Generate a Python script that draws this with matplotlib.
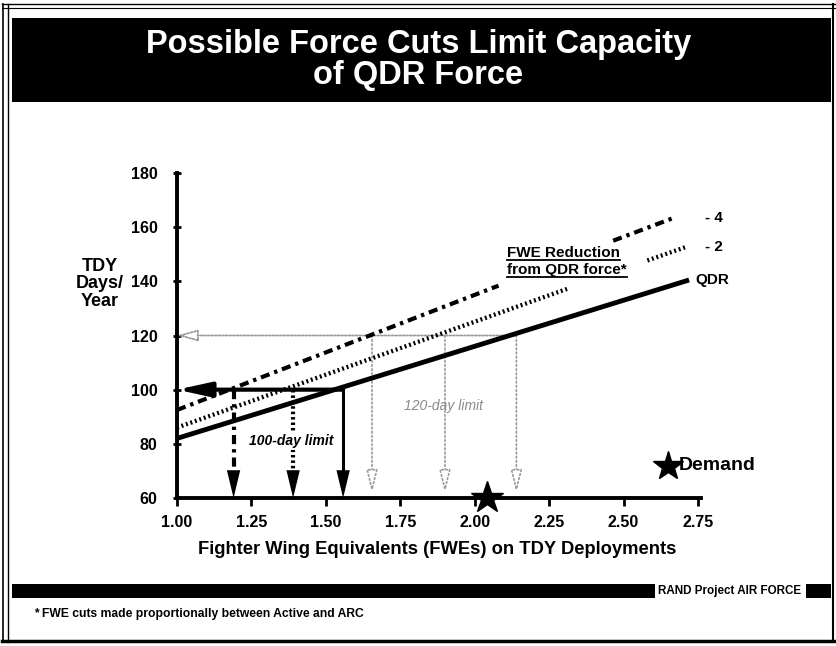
import numpy as np
import matplotlib
matplotlib.use("Agg")
import matplotlib.pyplot as plt
from matplotlib.lines import Line2D
from matplotlib.patches import Rectangle

plt.rcParams['font.family'] = ['Liberation Sans', 'DejaVu Sans']

# ---------------- data ----------------
qdr_x = [1.0, 2.72]
qdr_y = [82.0, 140.5]
cut2_x = [1.0, 2.31, np.nan, 2.58, 2.71]
cut2_y = [86.0, 137.2, np.nan, 147.7, 152.7]
cut4_x = [1.0, 2.08, np.nan, 2.465, 2.67]
cut4_y = [92.5, 138.4, np.nan, 155.0, 163.5]
limit100_x = [1.19, 1.39, 1.558]     # -4, -2, QDR at 100 days
limit120_x = [1.655, 1.90, 2.14]     # -4, -2, QDR at 120 days
limit100 = 100
limit120 = 120
demand_x = 2.04
x_ticks = [1.00, 1.25, 1.50, 1.75, 2.00, 2.25, 2.50, 2.75]
x_tick_labels = ["1.00", "1.25", "1.50", "1.75", "2.00", "2.25", "2.50", "2.75"]
y_ticks = [60, 80, 100, 120, 140, 160, 180]
series_labels = ["- 4", "- 2", "QDR"]

W, H = 837, 646
fig = plt.figure(figsize=(W / 100, H / 100), dpi=100)

def fx(px):
    return px / W

def fy(py):
    return 1 - py / H

# ---------------- page frame ----------------
for xp, lw in [(3, 1.2), (8, 1.0), (833, 1.5)]:
    fig.add_artist(Line2D([fx(xp), fx(xp)], [fy(4), fy(642)], color='black', lw=lw, transform=fig.transFigure))
for yp, lw in [(4, 1.0), (8, 0.8), (641, 2.5)]:
    fig.add_artist(Line2D([fx(2), fx(835)], [fy(yp), fy(yp)], color='black', lw=lw, transform=fig.transFigure))

# title band
fig.add_artist(Rectangle((fx(12), fy(102)), fx(831) - fx(12), fy(18) - fy(102),
                         transform=fig.transFigure, facecolor='black', edgecolor='none'))
fig.text(0.5, fy(60), "Possible Force Cuts Limit Capacity\nof QDR Force", color='white',
         ha='center', va='center', fontsize=23.5, fontweight='bold', linespacing=0.98,
         transform=fig.transFigure)

# bottom band
fig.add_artist(Rectangle((fx(12), fy(598)), fx(655) - fx(12), fy(584) - fy(598),
                         transform=fig.transFigure, facecolor='black', edgecolor='none'))
fig.add_artist(Rectangle((fx(806), fy(598)), fx(831) - fx(806), fy(584) - fy(598),
                         transform=fig.transFigure, facecolor='black', edgecolor='none'))
fig.text(fx(658), fy(591), "RAND Project AIR FORCE", ha='left', va='center', fontsize=8.4,
         fontweight='bold')
fig.text(fx(34), fy(614), "* FWE cuts made proportionally between Active and ARC", ha='left', va='center',
         fontsize=8.7, fontweight='bold')

# ---------------- axes ----------------
ax = fig.add_axes([fx(177), fy(498), fx(698) - fx(177), fy(173) - fy(498)])
ax.set_xlim(1.0, 2.75)
ax.set_ylim(60, 180)
for s in ['top', 'right']:
    ax.spines[s].set_visible(False)
ax.spines['left'].set_linewidth(2.8)
ax.spines['bottom'].set_linewidth(2.8)
ax.spines['bottom'].set_bounds(1.0, 2.76)
ax.set_xticks(x_ticks)
ax.set_xticklabels(x_tick_labels)
ax.set_yticks(y_ticks)
ax.tick_params(axis='x', direction='out', length=6, width=2, pad=6, labelsize=11.5)
ax.tick_params(axis='y', direction='inout', length=6, width=2, pad=11, labelsize=11.5)
for lab in ax.get_xticklabels() + ax.get_yticklabels():
    lab.set_fontweight('bold')

ax.set_xlabel("Fighter Wing Equivalents (FWEs) on TDY Deployments", fontsize=13.2,
              fontweight='bold', labelpad=8)
fig.text(fx(100), fy(284), "TDY\nDays/\nYear", ha='center', va='center', fontsize=13,
         fontweight='bold', linespacing=1.05)

# ---------------- series ----------------
style4 = (0, (2.2, 1.2, 0.8, 1.2))
ax.plot(qdr_x, qdr_y, color='black', lw=3.5, solid_capstyle='butt', zorder=4)
ax.plot(cut2_x, cut2_y, color='black', lw=3.1, linestyle=(0, (0.45, 0.65)), zorder=4)
ax.plot(cut4_x, cut4_y, color='black', lw=3.0, linestyle=style4, zorder=4)

# series end labels
ax.text(2.775, cut4_y[-1], series_labels[0], ha='left', va='center', fontsize=11, fontweight='bold', clip_on=False)
ax.text(2.775, cut2_y[-1], series_labels[1], ha='left', va='center', fontsize=11, fontweight='bold', clip_on=False)
ax.text(2.74, qdr_y[-1], series_labels[2], ha='left', va='center', fontsize=11, fontweight='bold', clip_on=False)

# FWE reduction annotation (underlined)
t1 = ax.text(2.11, 150.5, "FWE Reduction", ha='left', va='center', fontsize=11, fontweight='bold')
t2 = ax.text(2.11, 144.2, "from QDR force*", ha='left', va='center', fontsize=11, fontweight='bold')
fig.canvas.draw()
inv = ax.transData.inverted()
for t, yv in [(t1, 147.9), (t2, 141.6)]:
    bb = t.get_window_extent()
    x0 = inv.transform((bb.x0, bb.y0))[0]
    x1 = inv.transform((bb.x1, bb.y0))[0]
    ax.plot([x0, x1], [yv, yv], color='black', lw=1.3)

# ---------------- 120-day limit (grey) ----------------
grey = '#9a9a9a'
ax.annotate('', xy=(1.0, limit120), xytext=(limit120_x[2], limit120),
            arrowprops=dict(arrowstyle='-|>,head_length=0.9,head_width=0.25', mutation_scale=14,
                            lw=1.3, ls=(0, (1, 1)), ec=grey, fc='white', shrinkA=0, shrinkB=0),
            annotation_clip=False, zorder=3)
for xv in limit120_x:
    ax.annotate('', xy=(xv, 62), xytext=(xv, limit120),
                arrowprops=dict(arrowstyle='-|>,head_length=1.0,head_width=0.25', mutation_scale=14,
                                lw=1.2, ls=(0, (1, 1.5)), ec=grey, fc='white', shrinkA=0, shrinkB=0),
                zorder=3)
ax.text(1.895, 94, "120-day limit", ha='center', va='center', fontsize=10, style='italic',
        color='#8a8a8a', zorder=5)

# ---------------- 100-day limit (black) ----------------
ax.annotate('', xy=(1.0, limit100), xytext=(limit100_x[2], limit100),
            arrowprops=dict(arrowstyle='-|>,head_length=1.0,head_width=0.22', mutation_scale=20,
                            lw=3.0, ec='black', fc='black', shrinkA=0, shrinkB=0),
            annotation_clip=False, zorder=6)
down_styles = [(style4, 3.0), ((0, (0.6, 0.7)), 3.0), ('-', 2.2)]
for xv, (ls, lw) in zip(limit100_x, down_styles):
    ax.plot([xv, xv], [limit100, 66], color='black', lw=lw, linestyle=ls, zorder=5)
    ax.annotate('', xy=(xv, 60), xytext=(xv, limit100),
                arrowprops=dict(arrowstyle='-|>,head_length=1.25,head_width=0.3', mutation_scale=16,
                                lw=0, ec='none', fc='black', shrinkA=0, shrinkB=0),
                zorder=6)
ax.text(1.385, 81, "100-day limit", ha='center', va='center', fontsize=10, style='italic',
        fontweight='bold', zorder=7,
        bbox=dict(facecolor='white', edgecolor='none', pad=1.5))

# ---------------- demand ----------------
ax.plot([demand_x], [60], marker='*', markersize=24, color='black', clip_on=False, zorder=8)
ax.plot([2.65], [72], marker='*', markersize=22, color='black', clip_on=False, zorder=8)
ax.text(2.685, 72, "Demand", ha='left', va='center', fontsize=14, fontweight='bold', clip_on=False)

fig.savefig("out.png", dpi=100)
